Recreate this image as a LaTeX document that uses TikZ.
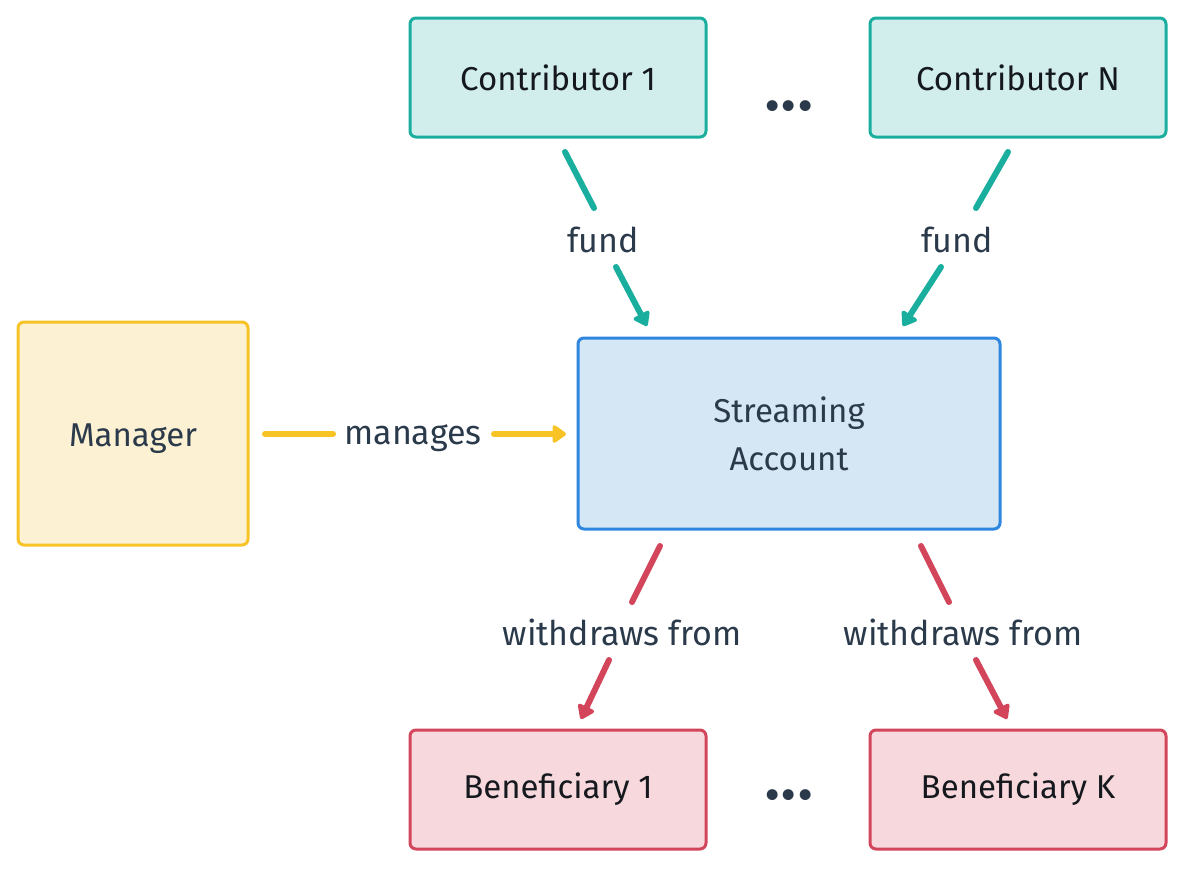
\documentclass[tikz,border=0pt]{standalone}
\usepackage{fontspec}
\setmainfont{Fira Sans}
\usetikzlibrary{arrows.meta}
\definecolor{tealB}{HTML}{1AAE9F}
\definecolor{tealF}{HTML}{D1EEEC}
\definecolor{yelB}{HTML}{F7C325}
\definecolor{yelF}{HTML}{FDF1D3}
\definecolor{bluB}{HTML}{2E86DE}
\definecolor{bluF}{HTML}{D5E6F5}
\definecolor{redB}{HTML}{D3455B}
\definecolor{redF}{HTML}{F7D9DD}
\definecolor{txt}{HTML}{2B3A4A}
\definecolor{boxtxt}{HTML}{15191E}
\tikzset{
  box/.style={draw, line width=3pt, rounded corners=6pt, align=center, text=boxtxt,
    font=\fontsize{33}{40}\selectfont, inner sep=0pt},
  lbl/.style={text=txt, font=\fontsize{34}{40}\selectfont, inner sep=0pt},
  conn/.style={line width=6pt, line cap=round},
  tip/.style={conn, -{Triangle[width=20pt,length=15pt,round]}},
  dots/.style={text=txt, font=\fontsize{60}{60}\selectfont\bfseries, inner sep=0pt}
}
\begin{document}
\begin{tikzpicture}[x=1pt,y=-1pt]
\useasboundingbox (0,0) rectangle (1184,868);
% boxes
\node[box, draw=tealB, fill=tealF, minimum width=296pt, minimum height=119pt] (c1) at (558,77.5) {Contributor 1};
\node[box, draw=tealB, fill=tealF, minimum width=296pt, minimum height=119pt] (cn) at (1018,77.5) {Contributor N};
\node[dots] (d1) at (789,106) {.\kern2pt.\kern2pt.};
\node[box, draw=yelB, fill=yelF, minimum width=230pt, minimum height=223pt, text=txt, text height=33pt, text depth=7pt] (m) at (133,433.5) {Manager};
\node[box, draw=bluB, fill=bluF, minimum width=422pt, minimum height=191pt, text=txt, font=\fontsize{33}{48}\selectfont] (sa) at (789,433.5) {Streaming\\Account};
\node[box, draw=redB, fill=redF, minimum width=296pt, minimum height=119pt] (b1) at (558,789.5) {Beneficiary 1};
\node[box, draw=redB, fill=redF, minimum width=296pt, minimum height=119pt] (bk) at (1018,789.5) {Beneficiary K};
\node[dots] (d2) at (789,795) {.\kern2pt.\kern2pt.};
% labels
\node[lbl] (f1) at (603,240) {fund};
\node[lbl] (fn) at (957,240) {fund};
\node[lbl] (mg) at (413,438) {manages};
\node[lbl] (w1) at (622,632) {withdraws from};
\node[lbl] (wk) at (963,632) {withdraws from};
% connector points
\coordinate (c1a) at (565,152); \coordinate (c1b) at (594,208);
\coordinate (c1c) at (616,267); \coordinate (c1d) at (647,326);
\coordinate (cna) at (1008,152); \coordinate (cnb) at (976,208);
\coordinate (cnc) at (941,267); \coordinate (cnd) at (903,326);
\coordinate (ma) at (265,434); \coordinate (mb) at (333,434);
\coordinate (mc) at (494,434); \coordinate (md) at (566,434);
\coordinate (w1a) at (660,546); \coordinate (w1b) at (632,602);
\coordinate (w1c) at (609,660); \coordinate (w1d) at (581,719);
\coordinate (wka) at (921,546); \coordinate (wkb) at (949,602);
\coordinate (wkc) at (976,660); \coordinate (wkd) at (1007,719);
% connectors
\draw[conn, tealB] (c1a) -- (c1b);
\draw[tip, tealB] (c1c) -- (c1d);
\draw[conn, tealB] (cna) -- (cnb);
\draw[tip, tealB] (cnc) -- (cnd);
\draw[conn, yelB] (ma) -- (mb);
\draw[tip, yelB] (mc) -- (md);
\draw[conn, redB] (w1a) -- (w1b);
\draw[tip, redB] (w1c) -- (w1d);
\draw[conn, redB] (wka) -- (wkb);
\draw[tip, redB] (wkc) -- (wkd);
\end{tikzpicture}
\end{document}
